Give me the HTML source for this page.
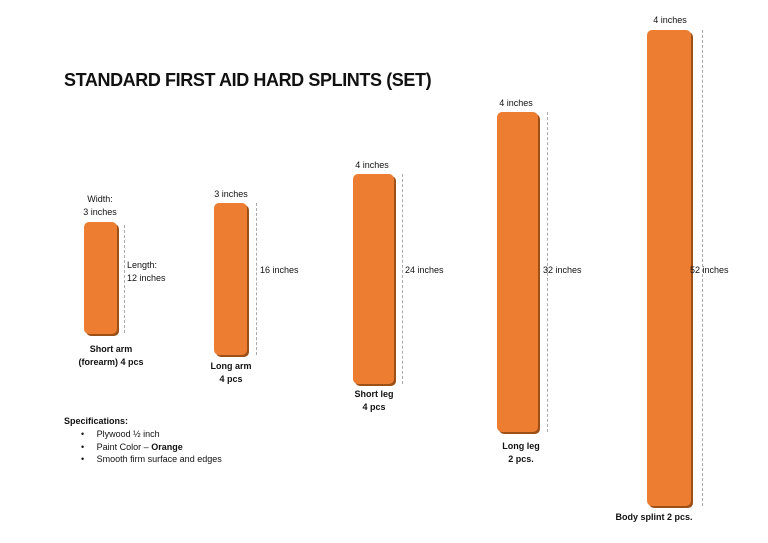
<!DOCTYPE html>
<html><head><style>
body{margin:0;width:768px;height:543px;background:#fff;position:relative;overflow:hidden;font-family:"Liberation Sans",Arial,sans-serif;color:#111}
.s{position:absolute;background:#ED7D31;border-radius:5px;box-shadow:2px 2px 0 #9c4f17}
.d{position:absolute;border-left:1px dashed #aaa;width:0}
.t{position:absolute;font-size:9px;white-space:nowrap}
.c{text-align:center;transform:translateX(-50%)}
.b{font-weight:bold}
</style></head><body>
<div class="t b" style="left:64px;top:70px;font-size:18px;letter-spacing:-0.4px">STANDARD FIRST AID HARD SPLINTS (SET)</div>

<div class="s" style="left:84px;top:222px;width:33px;height:112px"></div>
<div class="d" style="left:124px;top:225px;height:108px"></div>
<div class="t c" style="left:100px;top:193px;line-height:13px">Width:<br>3 inches</div>
<div class="t" style="left:127px;top:259px;line-height:13px">Length:<br>12 inches</div>
<div class="t c b" style="left:111px;top:343px;line-height:13px">Short arm<br>(forearm) 4 pcs</div>

<div class="s" style="left:214px;top:203px;width:33px;height:152px"></div>
<div class="d" style="left:256px;top:203px;height:152px"></div>
<div class="t c" style="left:231px;top:189px">3 inches</div>
<div class="t" style="left:260px;top:265px">16 inches</div>
<div class="t c b" style="left:231px;top:360px;line-height:13px">Long arm<br>4 pcs</div>

<div class="s" style="left:353px;top:174px;width:41px;height:210px"></div>
<div class="d" style="left:402px;top:174px;height:210px"></div>
<div class="t c" style="left:372px;top:160px">4 inches</div>
<div class="t" style="left:405px;top:265px">24 inches</div>
<div class="t c b" style="left:374px;top:388px;line-height:13px">Short leg<br>4 pcs</div>

<div class="s" style="left:497px;top:112px;width:41px;height:320px"></div>
<div class="d" style="left:547px;top:112px;height:320px"></div>
<div class="t c" style="left:516px;top:98px">4 inches</div>
<div class="t" style="left:543px;top:265px">32 inches</div>
<div class="t c b" style="left:521px;top:440px;line-height:13px">Long leg<br>2 pcs.</div>

<div class="s" style="left:647px;top:30px;width:44px;height:476px"></div>
<div class="d" style="left:702px;top:30px;height:476px"></div>
<div class="t c" style="left:670px;top:15px">4 inches</div>
<div class="t" style="left:690px;top:265px">52 inches</div>
<div class="t c b" style="left:654px;top:512px">Body splint 2 pcs.</div>

<div class="t b" style="left:64px;top:416px">Specifications:</div>
<div class="t" style="left:81px;top:428px;line-height:12.5px">•&nbsp;&nbsp;&nbsp;&nbsp;&nbsp;Plywood ½ inch<br>•&nbsp;&nbsp;&nbsp;&nbsp;&nbsp;Paint Color – <b>Orange</b><br>•&nbsp;&nbsp;&nbsp;&nbsp;&nbsp;Smooth firm surface and edges</div>
</body></html>
